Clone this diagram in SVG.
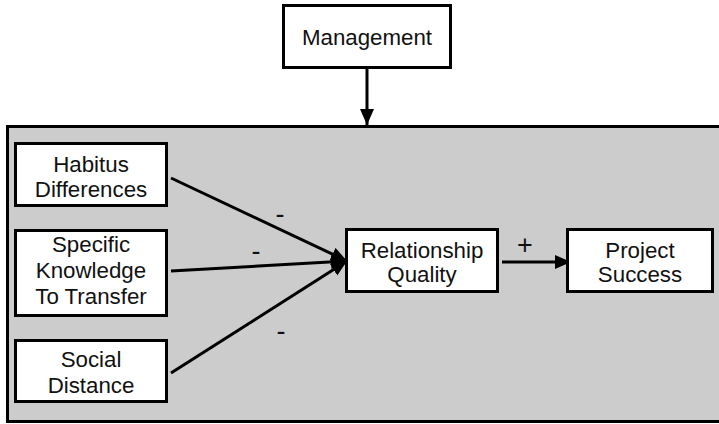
<svg xmlns="http://www.w3.org/2000/svg" width="719" height="424" viewBox="0 0 719 424">
  <style>
    .box { fill: #ffffff; stroke: #000000; stroke-width: 3; }
    .label { font-family: "Liberation Sans", Arial, sans-serif; font-size: 22.3px; fill: #111111; text-anchor: middle; }
    .sign { font-family: "Liberation Sans", Arial, sans-serif; font-size: 27px; fill: #111111; text-anchor: middle; }
    .edge { stroke: #000000; stroke-width: 3; fill: none; marker-end: url(#arrow); }
  </style>
  <defs>
    <marker id="arrow" markerUnits="userSpaceOnUse" markerWidth="17" markerHeight="15" refX="16" refY="7" orient="auto">
      <path d="M0,0 L16,7 L0,14 z" fill="#000000"/>
    </marker>
  </defs>

  <rect width="719" height="424" fill="#ffffff"/>

  <!-- system boundary -->
  <g id="context">
    <rect x="7.5" y="126.5" width="716" height="295" fill="#cccccc" stroke="#000000" stroke-width="3"/>
  </g>

  <g id="connectors">
    <line class="edge" x1="367" y1="68" x2="367" y2="125"/>
    <line class="edge" x1="171" y1="178" x2="347" y2="261"/>
    <line class="edge" x1="171" y1="271" x2="347" y2="261"/>
    <line class="edge" x1="171" y1="373" x2="347" y2="261"/>
    <line class="edge" x1="502" y1="262" x2="571" y2="262"/>
    <text class="sign" x="280" y="223">-</text>
    <text class="sign" x="256" y="260">-</text>
    <text class="sign" x="281" y="340">-</text>
    <text class="sign" x="525" y="254">+</text>
  </g>

  <g id="management">
    <rect class="box" x="283.5" y="5.5" width="167" height="62"/>
    <text class="label" x="367" y="45">Management</text>
  </g>

  <g id="habitus">
    <rect class="box" x="15.5" y="143.5" width="151" height="62"/>
    <text class="label" x="91" y="172">Habitus</text>
    <text class="label" x="91" y="197">Differences</text>
  </g>

  <g id="knowledge">
    <rect class="box" x="15.5" y="230.5" width="151" height="85"/>
    <text class="label" x="91" y="252">Specific</text>
    <text class="label" x="91" y="278">Knowledge</text>
    <text class="label" x="91" y="304">To Transfer</text>
  </g>

  <g id="social">
    <rect class="box" x="15.5" y="340.5" width="151" height="61"/>
    <text class="label" x="91" y="367">Social</text>
    <text class="label" x="91" y="393">Distance</text>
  </g>

  <g id="relationship">
    <rect class="box" x="346.5" y="229.5" width="151" height="62"/>
    <text class="label" x="422" y="258">Relationship</text>
    <text class="label" x="422" y="282">Quality</text>
  </g>

  <g id="success">
    <rect class="box" x="567.5" y="229.5" width="145" height="62"/>
    <text class="label" x="640" y="258">Project</text>
    <text class="label" x="640" y="282">Success</text>
  </g>
</svg>
